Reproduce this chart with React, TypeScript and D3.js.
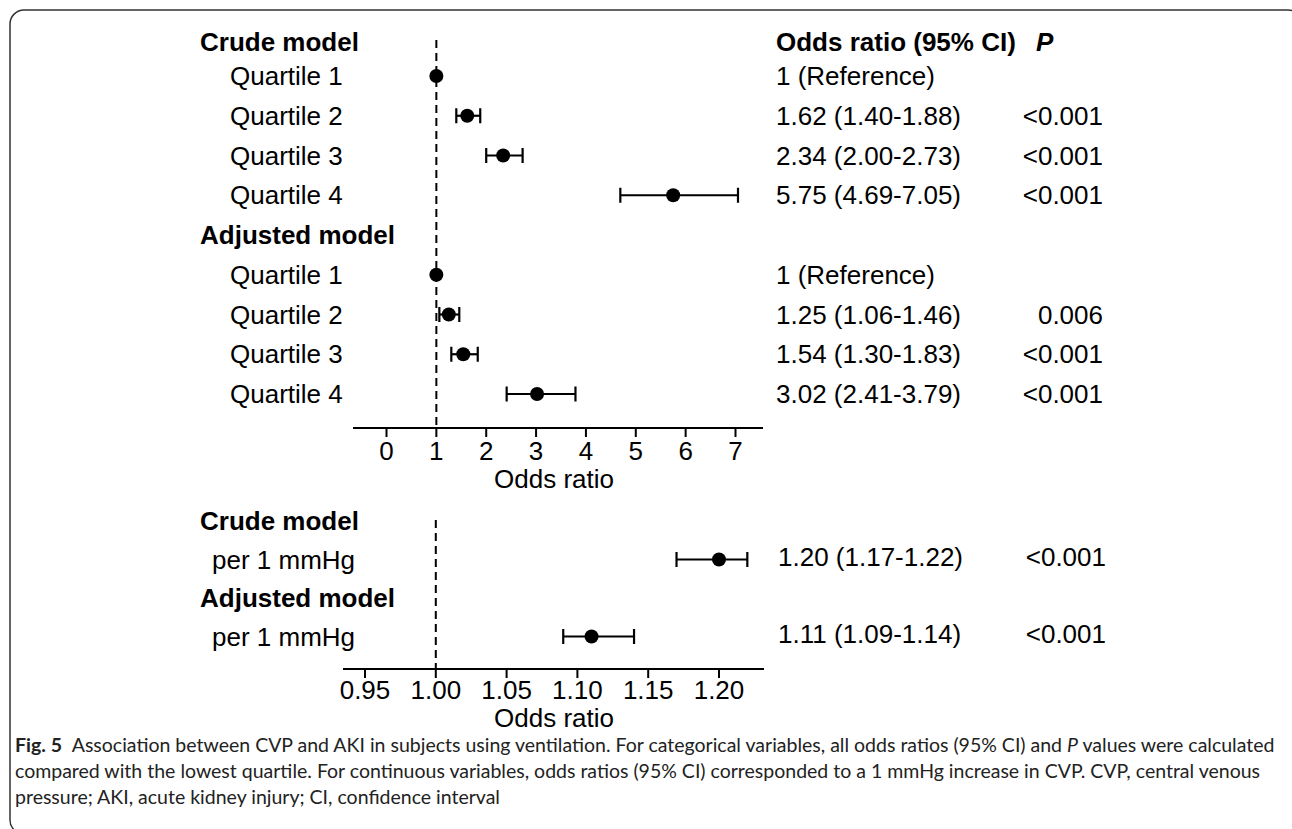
import { useEffect, useRef } from 'react';
import * as d3 from 'd3';

// quartile rows (top panel)
const quartiles = ['Quartile 1', 'Quartile 2', 'Quartile 3', 'Quartile 4'];
const crudeOR = [1, 1.62, 2.34, 5.75];
const crudeLo = [null, 1.40, 2.00, 4.69];
const crudeHi = [null, 1.88, 2.73, 7.05];
const crudeP = ['', '<0.001', '<0.001', '<0.001'];
const adjOR = [1, 1.25, 1.54, 3.02];
const adjLo = [null, 1.06, 1.30, 2.41];
const adjHi = [null, 1.46, 1.83, 3.79];
const adjP = ['', '0.006', '<0.001', '<0.001'];

// continuous rows (bottom panel)
const contLabel = 'per 1 mmHg';
const contOR = [1.20, 1.11];
const contLo = [1.17, 1.09];
const contHi = [1.22, 1.14];
const contP = ['<0.001', '<0.001'];

const topTicks = [0, 1, 2, 3, 4, 5, 6, 7];
const bottomTicks = [0.95, 1.0, 1.05, 1.1, 1.15, 1.2];

const captionLines = [
  [
    { t: 'Fig. 5', w: 'bold' },
    { t: '\u2002Association between CVP and AKI in subjects using ventilation. For categorical variables, all odds ratios (95% CI) and ' },
    { t: 'P', s: 'italic' },
    { t: ' values were calculated' },
  ],
  [{ t: 'compared with the lowest quartile. For continuous variables, odds ratios (95% CI) corresponded to a 1 mmHg increase in CVP. CVP, central venous' }],
  [{ t: 'pressure; AKI, acute kidney injury; CI, confidence interval' }],
];

const FONT = '"Liberation Sans", Arial, Helvetica, sans-serif';
const W = 1292;
const H = 829;

export default function App() {
  const svgRef = useRef<SVGSVGElement>(null);

  useEffect(() => {
    if (!svgRef.current) return;
    const svg = d3.select(svgRef.current);
    svg.selectAll('*').remove();

    // outer frame
    svg.append('rect')
      .attr('x', 10).attr('y', 10)
      .attr('width', 1292).attr('height', 824)
      .attr('rx', 14)
      .attr('fill', 'none')
      .attr('stroke', '#333')
      .attr('stroke-width', 1.5);

    const fs = 26;
    const txt = (x: number, y: number, s: string, opts: any = {}) =>
      svg.append('text')
        .attr('x', x).attr('y', y)
        .attr('dy', '0.35em')
        .attr('font-family', FONT)
        .attr('font-size', opts.size || fs)
        .attr('font-weight', opts.weight || 'normal')
        .attr('font-style', opts.style || 'normal')
        .attr('text-anchor', opts.anchor || 'start')
        .attr('fill', '#000')
        .text(s);

    const fmt = (or: number, lo: number | null, hi: number | null) =>
      lo == null ? `${or} (Reference)` : `${or.toFixed(2)} (${lo.toFixed(2)}-${hi!.toFixed(2)})`;

    const drawForest = (
      x: d3.ScaleLinear<number, number>,
      ys: number[], ors: number[], los: (number | null)[], his: (number | null)[]
    ) => {
      ors.forEach((or, i) => {
        const y = ys[i];
        const lo = los[i], hi = his[i];
        if (lo != null && hi != null) {
          svg.append('line').attr('x1', x(lo)).attr('x2', x(hi)).attr('y1', y).attr('y2', y)
            .attr('stroke', '#000').attr('stroke-width', 2.2);
          [lo, hi].forEach(v => {
            svg.append('line').attr('x1', x(v)).attr('x2', x(v)).attr('y1', y - 7.5).attr('y2', y + 7.5)
              .attr('stroke', '#000').attr('stroke-width', 2.2);
          });
        }
        svg.append('circle').attr('cx', x(or)).attr('cy', y).attr('r', 7).attr('fill', '#000');
      });
    };

    const drawAxis = (x: d3.ScaleLinear<number, number>, y0: number, x0: number, x1: number,
      ticks: number[], f: (d: number) => string, labelY: number, titleX: number, titleY: number) => {
      svg.append('line').attr('x1', x0).attr('x2', x1).attr('y1', y0).attr('y2', y0)
        .attr('stroke', '#000').attr('stroke-width', 2);
      ticks.forEach(t => {
        svg.append('line').attr('x1', x(t)).attr('x2', x(t)).attr('y1', y0).attr('y2', y0 + 9)
          .attr('stroke', '#000').attr('stroke-width', 2);
        svg.append('text').attr('x', x(t)).attr('y', labelY)
          .attr('font-family', FONT).attr('font-size', fs).attr('text-anchor', 'middle')
          .text(f(t));
      });
      svg.append('text').attr('x', titleX).attr('y', titleY)
        .attr('font-family', FONT).attr('font-size', fs).attr('text-anchor', 'middle')
        .text('Odds ratio');
    };

    // ---------- top panel ----------
    const xTop = d3.scaleLinear().domain([0, 7]).range([386.5, 735.5]);
    const rowTop = d3.scaleLinear().domain([1, 9]).range([76, 394]);
    const crudeY = quartiles.map((_, i) => rowTop(i + 1));
    const adjY = quartiles.map((_, i) => rowTop(i + 6));
    const headTop = 42;

    // reference line
    svg.append('line').attr('x1', xTop(1)).attr('x2', xTop(1)).attr('y1', 40).attr('y2', 428)
      .attr('stroke', '#000').attr('stroke-width', 2).attr('stroke-dasharray', '8,5');

    txt(200, headTop, 'Crude model', { weight: 'bold' });
    txt(200, rowTop(5), 'Adjusted model', { weight: 'bold' });
    quartiles.forEach((q, i) => {
      txt(230, crudeY[i], q);
      txt(230, adjY[i], q);
    });

    drawForest(xTop, crudeY, crudeOR, crudeLo, crudeHi);
    drawForest(xTop, adjY, adjOR, adjLo, adjHi);

    txt(776, headTop, 'Odds ratio (95% CI)', { weight: 'bold' });
    txt(1036, headTop, 'P', { weight: 'bold', style: 'italic' });
    crudeOR.forEach((or, i) => {
      txt(776, crudeY[i], fmt(or, crudeLo[i], crudeHi[i]));
      txt(1103, crudeY[i], crudeP[i], { anchor: 'end' });
    });
    adjOR.forEach((or, i) => {
      txt(776, adjY[i], fmt(or, adjLo[i], adjHi[i]));
      txt(1103, adjY[i], adjP[i], { anchor: 'end' });
    });

    drawAxis(xTop, 428, 353, 763, topTicks, d => String(d), 460, 554, 488);

    // ---------- bottom panel ----------
    const xBot = d3.scaleLinear().domain([0.95, 1.2]).range([365, 719]);
    const rowBot = d3.scaleLinear().domain([0, 3]).range([521, 636.5]);
    const contY = [rowBot(1), rowBot(3)];

    svg.append('line').attr('x1', xBot(1)).attr('x2', xBot(1)).attr('y1', 520).attr('y2', 669)
      .attr('stroke', '#000').attr('stroke-width', 2).attr('stroke-dasharray', '8,5');

    txt(200, rowBot(0), 'Crude model', { weight: 'bold' });
    txt(200, rowBot(2), 'Adjusted model', { weight: 'bold' });
    contY.forEach(y => txt(212, y, contLabel));

    drawForest(xBot, contY, contOR, contLo, contHi);
    contOR.forEach((or, i) => {
      txt(778, contY[i] - 3, fmt(or, contLo[i], contHi[i]));
      txt(1106, contY[i] - 3, contP[i], { anchor: 'end' });
    });

    drawAxis(xBot, 669, 343, 764, bottomTicks, d => d.toFixed(2), 699, 554, 727);

    // ---------- caption ----------
    const capY = [752, 778, 804];
    captionLines.forEach((parts, li) => {
      const t = svg.append('text').attr('x', 15).attr('y', capY[li])
        .attr('font-family', 'Lato, "Open Sans", sans-serif')
        .attr('font-size', 19.5)
        .attr('fill', '#222');
      parts.forEach((p: any) => {
        t.append('tspan')
          .attr('font-weight', p.w || 'normal')
          .attr('font-style', p.s || 'normal')
          .text(p.t);
      });
    });
  }, []);

  return (
    <svg
      ref={svgRef}
      width={W}
      height={H}
      style={{ position: 'absolute', left: 0, top: 0, background: '#fff' }}
    />
  );
}
